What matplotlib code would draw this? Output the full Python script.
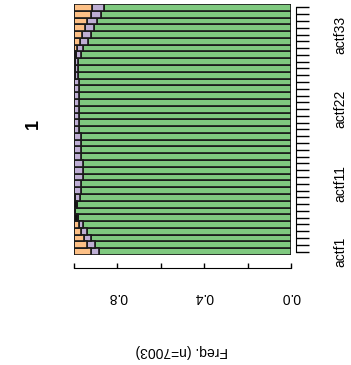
import numpy as np
import matplotlib
matplotlib.use("Agg")
import matplotlib.pyplot as plt

# categories actf1 .. actf37 (bottom to top in the rotated picture)
cats = [f"actf{i}" for i in range(1, 38)]
shown_labels = ["actf1", "actf11", "actf22", "actf33"]

orange = [0.077, 0.061, 0.046, 0.031, 0.022, 0, 0, 0, 0, 0,
          0, 0, 0, 0, 0, 0, 0, 0, 0, 0,
          0, 0, 0, 0, 0, 0, 0, 0, 0, 0,
          0.015, 0.028, 0.037, 0.052, 0.061, 0.077, 0.084]
purple = [0.040, 0.034, 0.034, 0.031, 0.018, 0, 0, 0, 0.025, 0.034,
          0.034, 0.040, 0.043, 0.043, 0.034, 0.034, 0.034, 0.034, 0.025, 0.025,
          0.025, 0.025, 0.025, 0.025, 0.025, 0.025, 0.015, 0.015, 0.015, 0.022,
          0.025, 0.035, 0.043, 0.040, 0.046, 0.048, 0.054]
dark = [0, 0, 0, 0, 0, 0.020, 0.004, 0.012, 0.003, 0,
        0, 0, 0, 0, 0, 0, 0, 0, 0, 0,
        0, 0, 0, 0, 0, 0, 0.003, 0.003, 0.003, 0.009,
        0, 0, 0, 0, 0, 0, 0]

orange = np.array(orange)
purple = np.array(purple)
dark = np.array(dark)
green = 1 - orange - purple - dark

plt.rcParams["font.family"] = ["Liberation Sans", "DejaVu Sans"]

fig = plt.figure(figsize=(3.51, 3.65), dpi=100)
ax = fig.add_axes([74 / 351, 1 - 255 / 365, 217 / 351, 251 / 365])

y = np.arange(1, len(cats) + 1)
edge = dict(edgecolor="#1a1a1a", linewidth=1.2, height=1.0)
ax.barh(y, green, left=0, color="#7FC97F", **edge)
ax.barh(y, purple, left=green, color="#BEAED4", **edge)
ax.barh(y, orange, left=green + purple, color="#FDC086", **edge)
ax.barh(y, dark, left=green + purple + orange, color="#111111", **edge)

ax.set_xlim(1.0, 0.0)
ax.set_ylim(0.5, len(cats) + 0.5)

for s in ["top", "left"]:
    ax.spines[s].set_visible(False)

# value axis (bottom, upside-down labels)
ax.spines["bottom"].set_position(("outward", 9.4))
ax.spines["bottom"].set_bounds(0, 1)
ax.set_xticks([0.0, 0.4, 0.8])
ax.set_xticklabels(["0.0", "0.4", "0.8"], rotation=180, fontsize=10)
ax.set_xticks([0.2, 0.6, 1.0], minor=True)
ax.tick_params(axis="x", which="both", direction="in", length=3.5, width=1.0, pad=16)

# category axis (right side)
ax.yaxis.tick_right()
ax.spines["right"].set_position(("outward", 3.6))
ax.spines["right"].set_bounds(1, len(cats))
ax.set_yticks(y)
ax.set_yticklabels([c if c in shown_labels else "" for c in cats],
                   rotation=90, va="center", fontsize=10)
ax.tick_params(axis="y", direction="out", length=9, width=1.0, pad=18)

fig.text(182 / 351, 1 - 351 / 365, "Freq. (n=7003)", rotation=180,
         ha="center", va="center", fontsize=10)
fig.text(33 / 351, 1 - 124 / 365, "1", rotation=90, ha="center", va="center",
         fontsize=13, fontweight="bold")

fig.savefig("out.png", dpi=100)
